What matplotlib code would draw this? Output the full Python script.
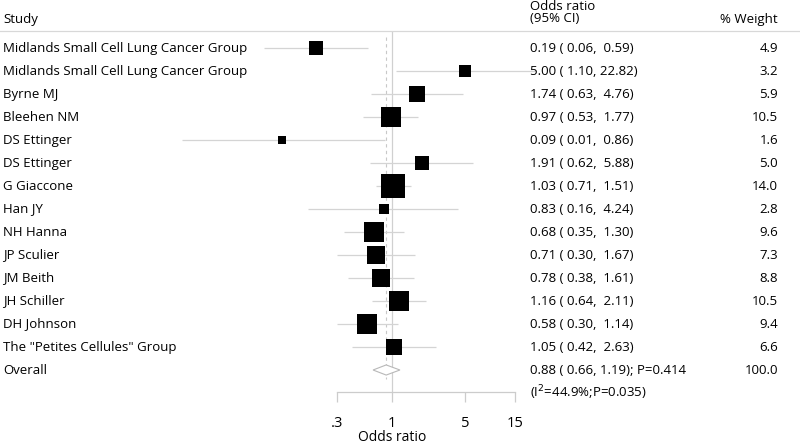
import matplotlib
matplotlib.use("Agg")
import matplotlib.pyplot as plt
import numpy as np
from matplotlib.transforms import blended_transform_factory

studies = ["Midlands Small Cell Lung Cancer Group", "Midlands Small Cell Lung Cancer Group",
           "Byrne MJ", "Bleehen NM", "DS Ettinger", "DS Ettinger", "G Giaccone", "Han JY",
           "NH Hanna", "JP Sculier", "JM Beith", "JH Schiller", "DH Johnson",
           'The "Petites Cellules" Group']
odds = [0.19, 5.00, 1.74, 0.97, 0.09, 1.91, 1.03, 0.83, 0.68, 0.71, 0.78, 1.16, 0.58, 1.05]
lower = [0.06, 1.10, 0.63, 0.53, 0.01, 0.62, 0.71, 0.16, 0.35, 0.30, 0.38, 0.64, 0.30, 0.42]
upper = [0.59, 22.82, 4.76, 1.77, 0.86, 5.88, 1.51, 4.24, 1.30, 1.67, 1.61, 2.11, 1.14, 2.63]
weights = [4.9, 3.2, 5.9, 10.5, 1.6, 5.0, 14.0, 2.8, 9.6, 7.3, 8.8, 10.5, 9.4, 6.6]
overall_or, overall_lo, overall_hi = 0.88, 0.66, 1.19
overall_text = "0.88 ( 0.66, 1.19); P=0.414"
overall_weight = "100.0"
het_text = r"(I$^2$=44.9%;P=0.035)"
tick_vals = [0.3, 1, 5, 15]
tick_labels = [".3", "1", "5", "15"]

plt.rcParams['font.family'] = ['Open Sans', 'DejaVu Sans']
W, H = 800, 444
fig = plt.figure(figsize=(8, 4.44), dpi=100)

# axes in pixel layout
left_px, right_px, top_px, bot_px = 170, 537, 31, 392
ax = fig.add_axes([left_px / W, 1 - bot_px / H, (right_px - left_px) / W, (bot_px - top_px) / H])
ax.set_xscale("log")
px_per_dec = 105.0
x1_px = 392.0
ax.set_xlim(10 ** ((left_px - x1_px) / px_per_dec), 10 ** ((right_px - x1_px) / px_per_dec))
row0_px, row_step = 48.0, 23.0
ax.set_ylim(1 + (bot_px - row0_px) / row_step, 1 + (top_px - row0_px) / row_step)

n = len(studies)
rows = np.arange(1, n + 1)
gray = "#d4d4d4"

ax.axvline(1, color="#d0d0d0", lw=0.9, zorder=1)
ax.vlines(overall_or, 0.5, n + 1.4, colors="#c8c8c8", lw=0.8, linestyles=(0, (3, 3)), zorder=1)

ax.hlines(rows, lower, upper, colors=gray, lw=0.9, zorder=2)
for r, o, w in zip(rows, odds, weights):
    ax.plot([o], [r], marker="s", ms=4.6 * np.sqrt(w), color="black", mec="black", mew=0, zorder=3, ls="none")

# overall diamond
yo = n + 1
dh = 0.22
ax.fill([overall_lo, overall_or, overall_hi, overall_or], [yo, yo - dh, yo, yo + dh],
        facecolor="white", edgecolor="#b8b8b8", lw=0.8, zorder=3)

for s in ["top", "right", "left"]:
    ax.spines[s].set_visible(False)
ax.spines["bottom"].set_bounds(min(tick_vals), max(tick_vals))
ax.spines["bottom"].set_color("#cccccc")
ax.spines["bottom"].set_linewidth(0.9)
ax.set_yticks([])
ax.set_xticks(tick_vals)
ax.set_xticklabels(tick_labels, fontsize=10.5)
ax.xaxis.set_minor_locator(matplotlib.ticker.NullLocator())
ax.tick_params(axis="x", length=7, color="#cccccc", width=0.9, pad=10)
ax.set_xlabel("Odds ratio", fontsize=10)
ax.xaxis.set_label_coords((x1_px - left_px) / (right_px - left_px), -(437 - bot_px) / (bot_px - top_px))
ax.xaxis.label.set_va("center")
ax.patch.set_alpha(0)

tr = blended_transform_factory(fig.transFigure, ax.transData)
fs = 9.5
for r, s, o, lo, hi, w in zip(rows, studies, odds, lower, upper, weights):
    fig.text(3 / W, r, s, transform=tr, fontsize=fs, va="center", ha="left")
    fig.text(530 / W, r, f"{o:.2f} ({lo:5.2f}, {hi:5.2f})", transform=tr, fontsize=fs, va="center", ha="left")
    fig.text(778 / W, r, f"{w:.1f}", transform=tr, fontsize=fs, va="center", ha="right")
fig.text(3 / W, yo, "Overall", transform=tr, fontsize=fs, va="center", ha="left")
fig.text(530 / W, yo, overall_text, transform=tr, fontsize=fs, va="center", ha="left")
fig.text(778 / W, yo, overall_weight, transform=tr, fontsize=fs, va="center", ha="right")
fig.text(530 / W, yo + 1, het_text, transform=tr, fontsize=fs, va="center", ha="left")

# headers
fig.text(3 / W, 1 - 19 / H, "Study", fontsize=fs, va="center", ha="left")
fig.text(530 / W, 1 - 6 / H, "Odds ratio", fontsize=fs, va="center", ha="left")
fig.text(530 / W, 1 - 19 / H, "(95% CI)", fontsize=fs, va="center", ha="left")
fig.text(778 / W, 1 - 19 / H, "% Weight", fontsize=fs, va="center", ha="right")
fig.add_artist(plt.Line2D([0, 1], [1 - 31 / H, 1 - 31 / H], transform=fig.transFigure, color="#d8d8d8", lw=0.9))

fig.savefig("out.png", dpi=100)
